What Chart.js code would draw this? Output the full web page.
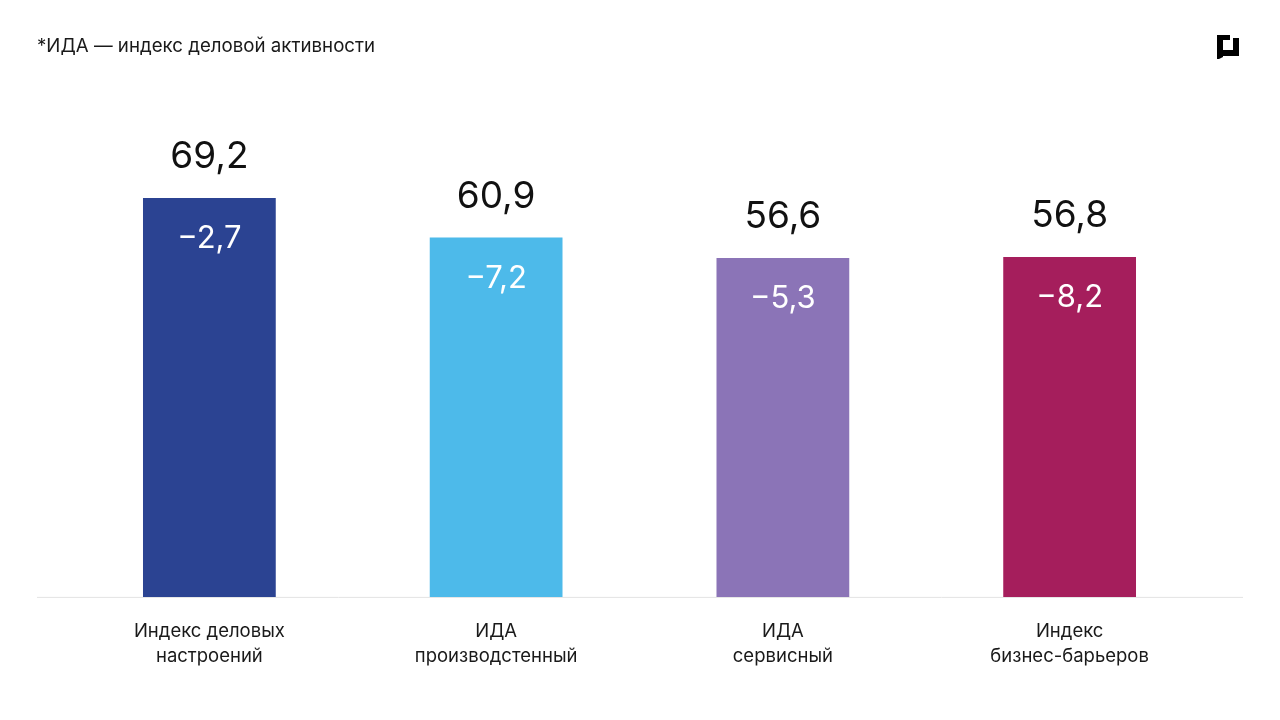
<!DOCTYPE html>
<html>
<head>
<meta charset="utf-8">
<script src="https://cdn.jsdelivr.net/npm/chart.js@4"></script>
<style>
html,body{margin:0;padding:0;background:#fff;}
#wrap{position:relative;width:1280px;height:720px;}
canvas{display:block;}
</style>
</head>
<body>
<div id="wrap"><canvas id="c" width="1280" height="720"></canvas></div>
<script>
const categories = [["Индекс деловых", "настроений"], ["ИДА", "производстенный"], ["ИДА", "сервисный"], ["Индекс", "бизнес-барьеров"]];
const values = [69.2, 60.9, 56.6, 56.8];
const changes = [-2.7, -7.2, -5.3, -8.2];
const colors = ["#2B4392", "#4DBAEA", "#8B74B7", "#A51E5C"];
const titleText = "*ИДА — индекс деловой активности";

const FONT = "Inter, 'Noto Sans', sans-serif";
const fmt = v => (v < 0 ? "\u2212" : "") + Math.abs(v).toFixed(1).replace(".", ",");

const Y_MIN = -14.6, Y_MAX = 89.8;

const decor = {
  id: "decor",
  beforeDatasetsDraw(chart) {
    const ctx = chart.ctx;
    const y = chart.chartArea.bottom;
    ctx.save();
    ctx.strokeStyle = "#e3e3e3";
    ctx.lineWidth = 1;
    ctx.beginPath();
    ctx.moveTo(37, y + 0.5);
    ctx.lineTo(1243, y + 0.5);
    ctx.stroke();
    ctx.restore();
  },
  afterDatasetsDraw(chart) {
    const ctx = chart.ctx;
    const meta = chart.getDatasetMeta(0);
    ctx.save();
    ctx.textAlign = "center";
    ctx.textBaseline = "middle";
    meta.data.forEach((bar, i) => {
      ctx.fillStyle = "#111";
      ctx.font = "400 37px " + FONT;
      ctx.fillText(fmt(values[i]), bar.x, bar.y - 41);
      ctx.fillStyle = "#fff";
      ctx.font = "400 31px " + FONT;
      ctx.fillText(fmt(changes[i]), bar.x, bar.y + 41);
    });
    // title
    ctx.textAlign = "left";
    ctx.textBaseline = "middle";
    ctx.fillStyle = "#1a1a1a";
    ctx.font = "400 18.7px " + FONT;
    ctx.fillText(titleText, 37, 46);
    // logo
    ctx.fillStyle = "#000";
    ctx.beginPath();
    ctx.moveTo(1217, 35);
    ctx.lineTo(1230, 35);
    ctx.lineTo(1230, 40);
    ctx.lineTo(1223, 40);
    ctx.lineTo(1223, 50);
    ctx.lineTo(1233, 50);
    ctx.lineTo(1233, 38);
    ctx.lineTo(1239, 38);
    ctx.lineTo(1239, 56);
    ctx.lineTo(1223, 56);
    ctx.lineTo(1223, 57);
    ctx.lineTo(1219, 59);
    ctx.lineTo(1217, 59);
    ctx.closePath();
    ctx.fill();
    ctx.restore();
  }
};

new Chart(document.getElementById("c"), {
  type: "bar",
  data: {
    labels: categories,
    datasets: [{
      data: values,
      base: Y_MIN,
      backgroundColor: colors,
      borderWidth: 0,
      categoryPercentage: 1,
      barPercentage: 0.463
    }]
  },
  options: {
    responsive: false,
    animation: false,
    devicePixelRatio: 1,
    layout: { padding: { left: 66, right: 67, top: 100, bottom: 29 } },
    plugins: { legend: { display: false }, tooltip: { enabled: false } },
    scales: {
      x: {
        grid: { display: false, drawTicks: false },
        border: { display: false },
        ticks: {
          color: "#1a1a1a",
          font: { family: FONT, size: 18.5, lineHeight: 1.3 },
          padding: 23,
          maxRotation: 0,
          autoSkip: false
        }
      },
      y: {
        display: false,
        min: Y_MIN,
        max: Y_MAX
      }
    }
  },
  plugins: [decor]
});
</script>
</body>
</html>
